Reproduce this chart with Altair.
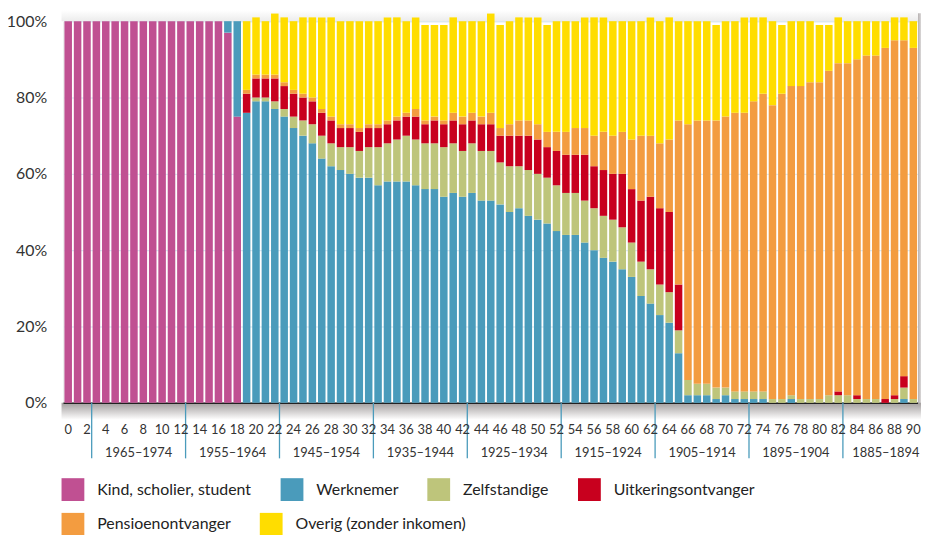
import altair as alt
import pandas as pd

# ---------------- data ----------------
ages = list(range(0, 91))

categories = ["Kind, scholier, student", "Werknemer", "Zelfstandige",
              "Uitkeringsontvanger", "Pensioenontvanger", "Overig (zonder inkomen)"]
colors = ["#c05092", "#4a9bbb", "#bec57b", "#c8001e", "#f39c40", "#ffdd00"]

kind = [100, 100, 100, 100, 100, 100, 100, 100, 100, 100,
        100, 100, 100, 100, 100, 100, 100, 97, 75, 0,
        0, 0, 0, 0, 0, 0, 0, 0, 0, 0,
        0, 0, 0, 0, 0, 0, 0, 0, 0, 0,
        0, 0, 0, 0, 0, 0, 0, 0, 0, 0,
        0, 0, 0, 0, 0, 0, 0, 0, 0, 0,
        0, 0, 0, 0, 0, 0, 0, 0, 0, 0,
        0, 0, 0, 0, 0, 0, 0, 0, 0, 0,
        0, 0, 0, 0, 0, 0, 0, 0, 0, 0,
        0]
werknemer = [0, 0, 0, 0, 0, 0, 0, 0, 0, 0,
             0, 0, 0, 0, 0, 0, 0, 3, 25, 76,
             79, 79, 77, 75, 72, 70, 68, 64, 62, 61,
             60, 59, 59, 57, 58, 58, 58, 57, 56, 56,
             54, 55, 54, 55, 53, 53, 52, 50, 51, 49,
             48, 47, 45, 44, 44, 42, 40, 38, 37, 35,
             33, 28, 26, 23, 21, 13, 2, 2, 2, 1,
             2, 1, 1, 1, 1, 0, 0, 1, 0, 0,
             0, 0, 0, 0, 0, 0, 0, 0, 0, 1,
             0]
zelfstandige = [0, 0, 0, 0, 0, 0, 0, 0, 0, 0,
                0, 0, 0, 0, 0, 0, 0, 0, 0, 0,
                1, 1, 2, 2, 3, 4, 5, 6, 6, 6,
                7, 7, 8, 10, 10, 11, 12, 12, 12, 12,
                13, 13, 12, 13, 13, 13, 11, 12, 11, 12,
                12, 12, 12, 11, 11, 11, 11, 11, 11, 11,
                9, 9, 9, 8, 8, 6, 4, 3, 3, 3,
                2, 2, 2, 2, 2, 1, 1, 1, 1, 1,
                1, 2, 2, 2, 1, 1, 1, 0, 1, 3,
                1]
uitkering = [0, 0, 0, 0, 0, 0, 0, 0, 0, 0,
             0, 0, 0, 0, 0, 0, 0, 0, 0, 5,
             5, 5, 6, 6, 6, 6, 6, 6, 6, 5,
             5, 5, 5, 5, 5, 5, 5, 6, 5, 6,
             6, 6, 7, 6, 7, 7, 7, 8, 8, 9,
             9, 8, 9, 10, 10, 12, 11, 12, 12, 14,
             14, 16, 19, 20, 21, 12, 0, 0, 0, 0,
             0, 0, 0, 0, 0, 0, 0, 0, 0, 0,
             0, 0, 1, 0, 1, 0, 0, 1, 1, 3,
             0]
pensioen = [0, 0, 0, 0, 0, 0, 0, 0, 0, 0,
            0, 0, 0, 0, 0, 0, 0, 0, 0, 1,
            1, 1, 1, 1, 1, 1, 1, 1, 1, 1,
            1, 1, 1, 1, 1, 1, 1, 2, 1, 1,
            1, 2, 2, 2, 2, 3, 2, 3, 4, 4,
            4, 4, 5, 6, 7, 7, 8, 10, 10, 11,
            13, 17, 16, 17, 19, 43, 67, 69, 69, 70,
            71, 73, 73, 76, 78, 77, 80, 81, 82, 83,
            83, 85, 86, 87, 88, 90, 90, 92, 93, 88,
            92]
overig = [0, 0, 0, 0, 0, 0, 0, 0, 0, 0,
          0, 0, 0, 0, 0, 0, 0, 0, 0, 18,
          15, 14, 16, 17, 18, 20, 21, 24, 26, 27,
          27, 28, 27, 27, 27, 26, 24, 24, 25, 24,
          25, 25, 25, 24, 25, 26, 27, 27, 27, 27,
          28, 28, 29, 29, 28, 29, 31, 30, 30, 29,
          31, 30, 31, 32, 32, 26, 27, 26, 26, 25,
          25, 24, 25, 22, 20, 22, 18, 17, 17, 16,
          15, 12, 12, 11, 10, 9, 9, 7, 6, 6,
          7]

series = [kind, werknemer, zelfstandige, uitkering, pensioen, overig]

y_ticks = [0, 20, 40, 60, 80, 100]
x_label_ages = list(range(0, 91, 2))

cohort_labels = ["1965–1974", "1955–1964", "1945–1954", "1935–1944", "1925–1934",
                 "1915–1924", "1905–1914", "1895–1904", "1885–1894"]
cohort_first_age = [3, 13, 23, 33, 43, 53, 63, 73, 83]
cohort_mid_age = [8, 18, 28, 38, 48, 58, 68, 78, 88]

# ---------------- tables ----------------
rows = []
for ci, (cat, vals) in enumerate(zip(categories, series)):
    for a, v in zip(ages, vals):
        rows.append({"age": a, "cat": cat, "idx": ci, "value": v})
df = pd.DataFrame(rows)

sep_df = pd.DataFrame({"age": cohort_first_age})
lab_df = pd.DataFrame({"age": cohort_mid_age[:-1], "label": cohort_labels[:-1]})
lab_last_df = pd.DataFrame({"age": cohort_mid_age[-1:], "label": cohort_labels[-1:]})

W, H = 862, 385
FONT = "Lato"

xscale = alt.Scale(domain=ages, paddingInner=0.2, paddingOuter=0.1)
yscale = alt.Scale(domain=[0, 100], nice=False)

x_axis = alt.Axis(values=x_label_ages, labelAngle=0, labelFont=FONT, labelFontSize=13,
                  labelColor="#333333", domain=False, ticks=False, grid=False,
                  labelPadding=21, title=None, zindex=1)
y_axis = alt.Axis(values=y_ticks, labelExpr="datum.value + '%'",
                  labelFont=FONT, labelFontSize=16, labelColor="#333333",
                  labelPadding=17, domain=False, ticks=False,
                  grid=True, gridColor="#d3e6f1", gridWidth=1, title=None)


def legend(y):
    return alt.Legend(orient="none", legendX=-2, legendY=y, direction="horizontal",
                      symbolType="square", symbolSize=529,
                      symbolStrokeWidth=0, symbolOpacity=1,
                      labelFont=FONT, labelFontSize=16, labelColor="#222222",
                      labelOffset=13, columnPadding=29, labelLimit=400, title=None)


# decorative shadows around the plot frame
shadow = alt.Chart(pd.DataFrame({"k": [0]})).mark_rect(
    color=alt.Gradient(gradient="linear",
                       stops=[alt.GradientStop(color="#a29e9e", offset=0),
                              alt.GradientStop(color="#ffffff", offset=1)],
                       x1=0, x2=0, y1=0, y2=1)
).encode(x=alt.value(-2), x2=alt.value(W + 4), y=alt.value(H), y2=alt.value(H + 17))

rshadow = alt.Chart(pd.DataFrame({"k": [0]})).mark_rect(
    color=alt.Gradient(gradient="linear",
                       stops=[alt.GradientStop(color="#b5b0b0", offset=0),
                              alt.GradientStop(color="#ffffff", offset=1)],
                       x1=0, x2=1, y1=0, y2=0)
).encode(x=alt.value(W), x2=alt.value(W + 6), y=alt.value(-8), y2=alt.value(H + 10))

tshadow = alt.Chart(pd.DataFrame({"k": [0]})).mark_rect(
    color=alt.Gradient(gradient="linear",
                       stops=[alt.GradientStop(color="#ffffff", offset=0),
                              alt.GradientStop(color="#ececec", offset=1)],
                       x1=0, x2=0, y1=0, y2=1)
).encode(x=alt.value(-2), x2=alt.value(W), y=alt.value(-11), y2=alt.value(0))

baseline = alt.Chart(pd.DataFrame({"k": [0]})).mark_rule(
    color="#222222", strokeWidth=1.5
).encode(x=alt.value(0), x2=alt.value(W), y=alt.value(H + 0.5))

stacked = alt.Chart(df).transform_stack(
    stack="value", groupby=["age"], as_=["y0", "y1"],
    sort=[alt.SortField("idx", order="ascending")],
)

bars_a = stacked.transform_filter("datum.idx < 4").mark_bar(opacity=1).encode(
    x=alt.X("age:O", scale=xscale, axis=x_axis),
    y=alt.Y("y0:Q", scale=yscale, axis=y_axis),
    y2="y1:Q",
    color=alt.Color("cat:N", scale=alt.Scale(domain=categories[:4], range=colors[:4]),
                    legend=legend(461)),
)

bars_b = stacked.transform_filter("datum.idx >= 4").mark_bar(opacity=1).encode(
    x=alt.X("age:O", scale=xscale, axis=x_axis),
    y=alt.Y("y0:Q", scale=yscale, axis=y_axis),
    y2="y1:Q",
    fill=alt.Fill("cat:N", scale=alt.Scale(domain=categories[4:], range=colors[4:]),
                  legend=legend(496)),
)

seps = alt.Chart(sep_df).mark_rule(color="#4a9bbb", strokeWidth=1.3, xOffset=-0.95).encode(
    x=alt.X("age:O", scale=xscale, bandPosition=0),
    y=alt.value(H), y2=alt.value(H + 56),
)

cohorts = alt.Chart(lab_df).mark_text(font=FONT, fontSize=13, color="#333333",
                                      baseline="middle", xOffset=-0.95).encode(
    x=alt.X("age:O", scale=xscale, bandPosition=0),
    y=alt.value(H + 51),
    text="label:N",
)

cohort_last = alt.Chart(lab_last_df).mark_text(font=FONT, fontSize=13, color="#333333",
                                               baseline="middle", xOffset=-5).encode(
    x=alt.X("age:O", scale=xscale, bandPosition=0),
    y=alt.value(H + 51),
    text="label:N",
)

chart = alt.layer(tshadow, rshadow, shadow, baseline, bars_a, bars_b, seps,
                  cohorts, cohort_last).resolve_scale(
    color="independent", fill="independent"
).properties(
    width=W, height=H,
    autosize=alt.AutoSizeParams(type="none"),
    padding={"left": 56, "top": 11, "right": 3, "bottom": 131},
).configure_view(stroke=None).configure(background="#ffffff")

chart.save("out.html", embed_options={"renderer": "svg", "actions": False})
